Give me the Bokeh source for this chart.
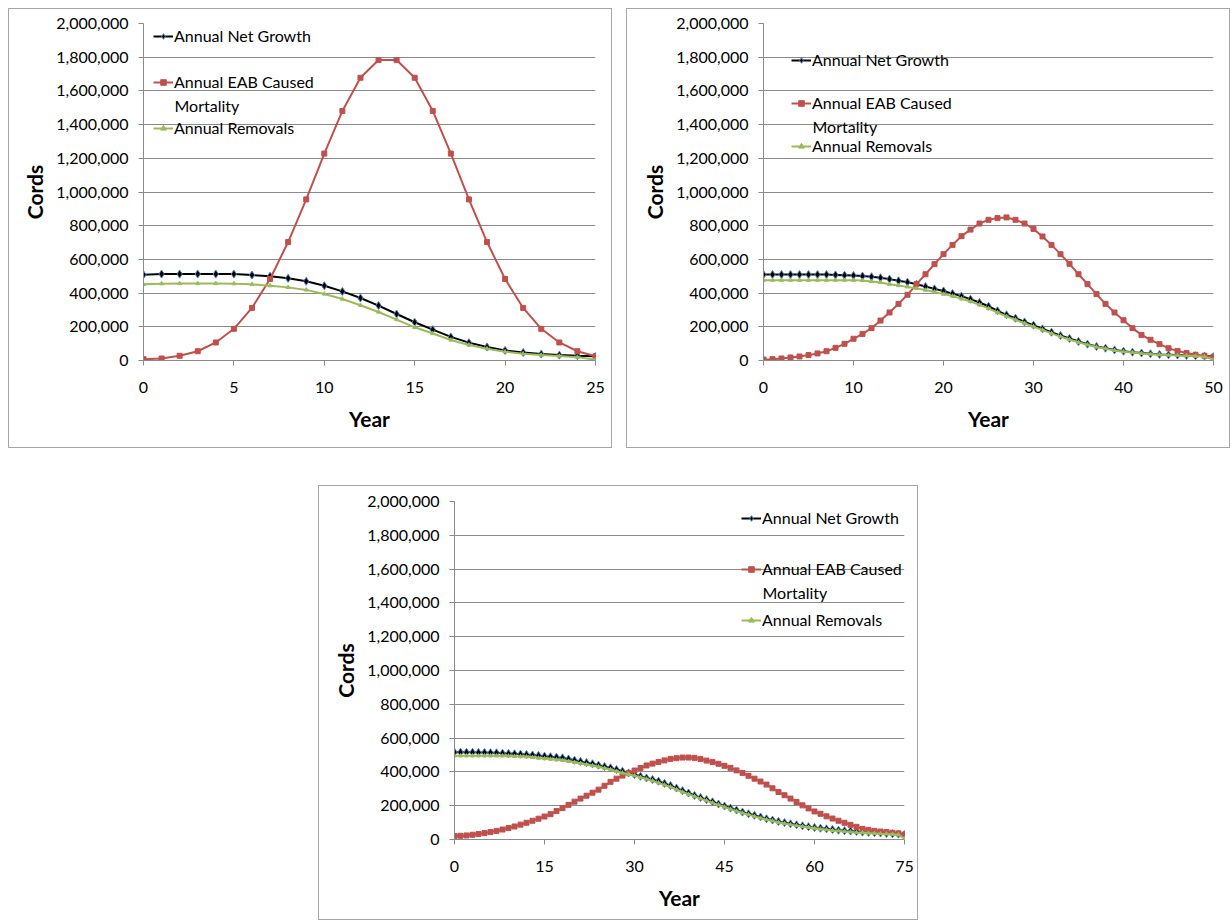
from bokeh.plotting import figure
from bokeh.models import (Range1d, FixedTicker, NumeralTickFormatter, Legend,
                          LegendItem, Label, Spacer)
from bokeh.layouts import column, row
from bokeh.embed import file_html
from bokeh.resources import INLINE

# ---------------- data ----------------
series_names = ["Annual Net Growth", "Annual EAB Caused", "Mortality", "Annual Removals"]
y_ticks = [0, 200000, 400000, 600000, 800000, 1000000, 1200000, 1400000,
           1600000, 1800000, 2000000]

# Panel 1: 25-year scenario
years_25 = list(range(0, 26))
xticks_25 = [0, 5, 10, 15, 20, 25]
growth_25 = [509000, 513000, 513000, 513000, 513000, 513000, 507000, 500000, 488000,
             470000, 444000, 410000, 371000, 326000, 276000, 227000, 183000, 140000,
             106000, 80000, 60000, 48000, 38000, 32000, 28000, 25000]
mortality_25 = [8000, 12000, 28000, 55000, 107000, 188000, 312000, 484000, 703000,
                956000, 1228000, 1481000, 1678000, 1783000, 1783000, 1678000, 1481000,
                1228000, 956000, 703000, 484000, 312000, 188000, 107000, 55000, 25000]
removals_25 = [452000, 456000, 457000, 457000, 457000, 456000, 452000, 444000, 434000,
               419000, 395000, 365000, 328000, 288000, 243000, 197000, 160000, 122000,
               92000, 70000, 52000, 40000, 32000, 26000, 20000, 5000]

# Panel 2: 50-year scenario
years_50 = list(range(0, 51))
xticks_50 = [0, 10, 20, 30, 40, 50]
growth_50 = [510000, 510000, 510000, 510000, 510000, 510000, 510000, 510000, 508000, 506000,
             504000, 501000, 497000, 491000, 483000, 473000, 465000, 453000, 439000, 425000,
             413000, 397000, 382000, 364000, 344000, 322000, 295000, 271000, 251000, 229000,
             210000, 188000, 168000, 148000, 131000, 113000, 97000, 83000, 73000, 63000,
             55000, 49000, 44000, 40000, 36000, 34000, 32000, 30000, 28000, 26000, 24000]
mortality_50 = [6000, 8000, 12000, 18000, 24000, 32000, 42000, 55000, 75000, 99000,
                129000, 158000, 192000, 237000, 285000, 336000, 390000, 453000, 512000, 572000,
                631000, 686000, 738000, 777000, 813000, 835000, 845000, 849000, 835000, 813000,
                781000, 736000, 686000, 631000, 574000, 512000, 453000, 394000, 336000, 285000,
                239000, 192000, 152000, 123000, 97000, 73000, 57000, 44000, 34000, 28000, 22000]
removals_50 = [477000, 477000, 477000, 477000, 477000, 477000, 477000, 477000, 477000, 477000,
               477000, 475000, 469000, 463000, 453000, 445000, 437000, 428000, 418000, 407000,
               394000, 382000, 366000, 350000, 330000, 309000, 285000, 262000, 242000, 221000,
               201000, 181000, 161000, 142000, 125000, 108000, 93000, 80000, 70000, 60000,
               52000, 47000, 42000, 38000, 34000, 32000, 30000, 28000, 26000, 22000, 5000]

# Panel 3: 75-year scenario
years_75 = list(range(0, 76))
xticks_75 = [0, 15, 30, 45, 60, 75]
growth_75 = [517000, 517000, 516000, 516000, 515000, 515000, 514000, 513000, 511000, 509000,
             507000, 505000, 503000, 500000, 497000, 493000, 490000, 487000, 483000, 476000,
             469000, 462000, 455000, 448000, 440000, 432000, 424000, 414000, 404000, 394000,
             384000, 374000, 364000, 355000, 345000, 332000, 319000, 304000, 289000, 275000,
             261000, 248000, 236000, 223000, 210000, 198000, 186000, 174000, 162000, 152000,
             143000, 133000, 123000, 115000, 107000, 100000, 93000, 87000, 81000, 76000,
             71000, 67000, 63000, 59000, 55000, 52000, 50000, 47000, 44000, 42000,
             40000, 38000, 36000, 34000, 32000, 31000]
mortality_75 = [20000, 22000, 24000, 28000, 32000, 38000, 44000, 51000, 59000, 68000,
                77000, 88000, 99000, 111000, 123000, 136000, 150000, 168000, 186000, 205000,
                224000, 242000, 259000, 277000, 295000, 318000, 341000, 360000, 378000, 393000,
                408000, 423000, 438000, 449000, 459000, 468000, 477000, 481000, 485000, 485000,
                483000, 476000, 467000, 458000, 448000, 436000, 424000, 409000, 394000, 377000,
                360000, 343000, 325000, 303000, 281000, 262000, 242000, 222000, 202000, 184000,
                166000, 152000, 137000, 124000, 111000, 99000, 87000, 75000, 63000, 57000,
                51000, 47000, 44000, 40000, 36000, 28000]
removals_75 = [495000, 495000, 495000, 495000, 495000, 495000, 495000, 495000, 495000, 494000,
               492000, 491000, 489000, 486000, 482000, 479000, 476000, 472000, 469000, 463000,
               457000, 451000, 444000, 437000, 430000, 422000, 414000, 404000, 394000, 386000,
               378000, 368000, 358000, 347000, 335000, 323000, 311000, 296000, 281000, 268000,
               255000, 242000, 230000, 217000, 205000, 192000, 180000, 168000, 157000, 147000,
               137000, 127000, 118000, 110000, 102000, 95000, 88000, 82000, 77000, 72000,
               67000, 62000, 58000, 54000, 51000, 48000, 45000, 42000, 40000, 38000,
               36000, 34000, 33000, 31000, 28000, 5000]

# ---------------- styling ----------------
FONT = "Lato"
GRID = "#8a8a8a"
C_GROWTH = "#000000"
C_GROWTH_EDGE = "#4F81BD"
C_MORT = "#C0504D"
C_REM = "#9BBB59"


def make_panel(years, growth, mortality, removals, xticks, width, height,
               borders, legend_xy):
    left, right, top, bottom = borders
    p = figure(width=width, height=height, output_backend="svg", toolbar_location=None,
               x_range=Range1d(xticks[0], xticks[-1]), y_range=Range1d(y_ticks[0], y_ticks[-1]),
               min_border_left=left, min_border_right=right,
               min_border_top=top, min_border_bottom=bottom,
               background_fill_color="white", border_fill_color="white")
    p.styles = {"border": "1px solid #a6a6a6", "box-sizing": "border-box"}
    p.outline_line_color = None

    l1 = p.line(years, growth, line_color=C_GROWTH, line_width=2)
    s1 = p.scatter(years, growth, marker="diamond", size=8, fill_color=C_GROWTH,
                   line_color=C_GROWTH_EDGE, line_width=1)
    l2 = p.line(years, mortality, line_color=C_MORT, line_width=2)
    s2 = p.scatter(years, mortality, marker="square", size=5, fill_color=C_MORT,
                   line_color=C_MORT)
    l3 = p.line(years, removals, line_color=C_REM, line_width=2)
    s3 = p.scatter(years, removals, marker="triangle", size=4, fill_color=C_REM,
                   line_color=C_REM)

    # axes
    p.xaxis.ticker = FixedTicker(ticks=xticks)
    p.yaxis.ticker = FixedTicker(ticks=y_ticks)
    p.yaxis.formatter = NumeralTickFormatter(format="0,0")
    for ax in (p.xaxis, p.yaxis):
        ax.axis_line_color = GRID
        ax.major_tick_line_color = GRID
        ax.major_tick_out = 5
        ax.major_tick_in = 0
        ax.minor_tick_line_color = None
        ax.major_label_text_font = FONT
        ax.major_label_text_font_size = "16px"
        ax.major_label_text_color = "black"
        ax.axis_label_text_font = FONT
        ax.axis_label_text_font_size = "21px"
        ax.axis_label_text_font_style = "bold"
        ax.axis_label_text_color = "black"
    p.xaxis.axis_label = "Year"
    p.yaxis.axis_label = "Cords"
    p.xaxis.major_label_standoff = 16
    p.xaxis.axis_label_standoff = 10
    p.yaxis.major_label_standoff = 10
    p.yaxis.axis_label_standoff = 6

    p.xgrid.visible = False
    p.ygrid.grid_line_color = GRID
    p.ygrid.grid_line_width = 1

    # legend (Excel-like, placed item by item)
    vx, y_growth, y_mort, y_mort2, y_rem = legend_xy
    items = [
        (series_names[0], [l1, s1], y_growth),
        (series_names[1], [l2, s2], y_mort),
        (series_names[3], [l3, s3], y_rem),
    ]
    for label, rends, cy in items:
        leg = Legend(items=[LegendItem(label=label, renderers=rends)],
                     location=(vx, cy - 7), padding=0, margin=0, spacing=0,
                     glyph_width=20, glyph_height=14, label_height=14,
                     label_standoff=1, label_text_font=FONT,
                     label_text_font_size="16px", label_text_color="black",
                     background_fill_alpha=0, border_line_alpha=0)
        p.add_layout(leg)
    p.add_layout(Label(x=vx + 21, y=y_mort2, x_units="screen", y_units="screen",
                       text=series_names[2], text_baseline="middle",
                       text_font=FONT, text_font_size="16px", text_color="black"))
    return p


p1 = make_panel(years_25, growth_25, mortality_25, removals_25, xticks_25,
                604, 440, (134, 18, 14, 89), (10, 322, 276, 255, 230))
p2 = make_panel(years_50, growth_50, mortality_50, removals_50, xticks_50,
                604, 440, (136, 18, 14, 89), (28, 298, 255, 234, 212))
p3 = make_panel(years_75, growth_75, mortality_75, removals_75, xticks_75,
                600, 435, (135, 15, 15, 82), (287, 319, 268, 247, 217))

layout = column(
    Spacer(height=8),
    row(Spacer(width=8), p1, Spacer(width=14), p2),
    Spacer(height=37),
    row(Spacer(width=318), p3),
)

open("out.html", "w").write(file_html(layout, INLINE))
